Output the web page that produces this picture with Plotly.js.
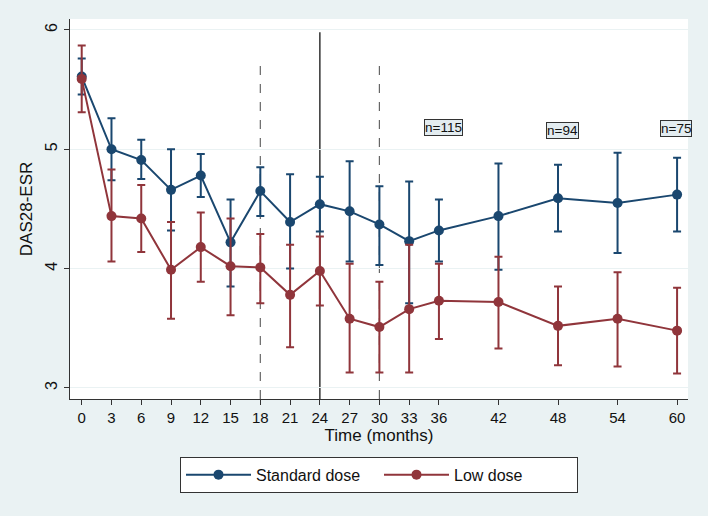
<!DOCTYPE html>
<html>
<head>
<meta charset="utf-8">
<script src="https://cdn.plot.ly/plotly-3.0.1.min.js"></script>
<style>html,body{margin:0;padding:0;background:#EAF2F3;}#chart{width:708px;height:516px;}</style>
</head>
<body>
<div id="chart"></div>
<script>
var months = [0, 3, 6, 9, 12, 15, 18, 21, 24, 27, 30, 33, 36, 42, 48, 54, 60];
var tickLabels = ["0","3","6","9","12","15","18","21","24","27","30","33","36","42","48","54","60"];

var stdMean  = [5.61, 5.00, 4.91, 4.66, 4.78, 4.22, 4.65, 4.39, 4.54, 4.48, 4.37, 4.23, 4.32, 4.44, 4.59, 4.55, 4.62];
var stdUpper = [5.76, 5.26, 5.08, 5.00, 4.96, 4.58, 4.85, 4.79, 4.77, 4.90, 4.69, 4.73, 4.58, 4.88, 4.87, 4.97, 4.93];
var stdLower = [5.46, 4.74, 4.75, 4.32, 4.60, 3.85, 4.44, 4.00, 4.31, 4.06, 4.03, 3.71, 4.06, 3.99, 4.31, 4.13, 4.31];

var lowMean  = [5.59, 4.44, 4.42, 3.99, 4.18, 4.02, 4.01, 3.78, 3.98, 3.58, 3.51, 3.66, 3.73, 3.72, 3.52, 3.58, 3.48];
var lowUpper = [5.87, 4.83, 4.70, 4.39, 4.47, 4.42, 4.29, 4.20, 4.27, 4.04, 3.89, 4.20, 4.04, 4.10, 3.85, 3.97, 3.84];
var lowLower = [5.31, 4.06, 4.14, 3.58, 3.89, 3.61, 3.71, 3.34, 3.69, 3.13, 3.13, 3.13, 3.41, 3.33, 3.19, 3.18, 3.12];

var nLabels = ["n=115", "n=94", "n=75"];
var nX = [36.5, 48.5, 59.9];
var nY = [5.18, 5.16, 5.175];

var dashedLines = [18, 30];
var solidLines = [24];

var blue = "#1A476F", red = "#90353B";

function diff(a, b) { return a.map(function (v, i) { return v - b[i]; }); }

var traces = [
  {
    x: months, y: stdMean, type: "scatter", mode: "lines+markers", name: "Standard dose",
    line: {color: blue, width: 2}, marker: {color: blue, size: 10},
    error_y: {type: "data", symmetric: false, array: diff(stdUpper, stdMean), arrayminus: diff(stdMean, stdLower),
              color: blue, thickness: 2, width: 4}
  },
  {
    x: months, y: lowMean, type: "scatter", mode: "lines+markers", name: "Low dose",
    line: {color: red, width: 2}, marker: {color: red, size: 10},
    error_y: {type: "data", symmetric: false, array: diff(lowUpper, lowMean), arrayminus: diff(lowMean, lowLower),
              color: red, thickness: 2, width: 4}
  }
];

var yRange = [2.907, 6.092];
var shapes = [];
dashedLines.forEach(function (m) {
  shapes.push({type: "line", xref: "x", yref: "y", x0: m, x1: m, y0: yRange[0], y1: 5.75,
               line: {color: "#666", width: 1.2, dash: "dash"}, layer: "below"});
});
solidLines.forEach(function (m) {
  shapes.push({type: "line", xref: "x", yref: "y", x0: m, x1: m, y0: yRange[0], y1: 5.98,
               line: {color: "#333", width: 1.5}, layer: "below"});
});

var annotations = nLabels.map(function (t, i) {
  return {x: nX[i], y: nY[i], xref: "x", yref: "y", text: t, showarrow: false,
          font: {family: "Liberation Sans, Arial, sans-serif", size: 13.5, color: "#111"},
          bgcolor: "#E3ECF0", bordercolor: "#333", borderwidth: 1, borderpad: 0};
});

var layout = {
  width: 708, height: 516,
  paper_bgcolor: "#EAF2F3", plot_bgcolor: "#FFFFFF",
  margin: {l: 70, r: 20, t: 19, b: 117},
  font: {family: "Liberation Sans, Arial, sans-serif", color: "#111"},
  showlegend: true,
  legend: {orientation: "h", x: 0.5, xanchor: "center", y: -0.152, yanchor: "top",
           bgcolor: "#FFFFFF", bordercolor: "#333", borderwidth: 1,
           font: {size: 16, color: "#111"}, entrywidth: 118, itemwidth: 65},
  xaxis: {
    range: [-1.18, 61.1], tickmode: "array", tickvals: months, ticktext: tickLabels,
    showgrid: false, zeroline: false, showline: true, linecolor: "#333", linewidth: 1.2,
    ticks: "outside", ticklen: 5, tickcolor: "#333", tickfont: {size: 15},
    title: {text: "Time (months)", font: {size: 17}, standoff: 0}
  },
  yaxis: {
    range: yRange, tickmode: "array", tickvals: [3, 4, 5, 6], ticktext: ["3", "4", "5", "6"],
    showgrid: true, gridcolor: "#EAF2F3", gridwidth: 1, zeroline: false,
    showline: true, linecolor: "#333", linewidth: 1.2,
    ticks: "outside", ticklen: 5, tickcolor: "#333", tickfont: {size: 16}, tickangle: -90,
    title: {text: "DAS28-ESR", font: {size: 17}, standoff: 6}
  },
  shapes: shapes,
  annotations: annotations
};

Plotly.newPlot("chart", traces, layout, {staticPlot: true});
</script>
</body>
</html>
